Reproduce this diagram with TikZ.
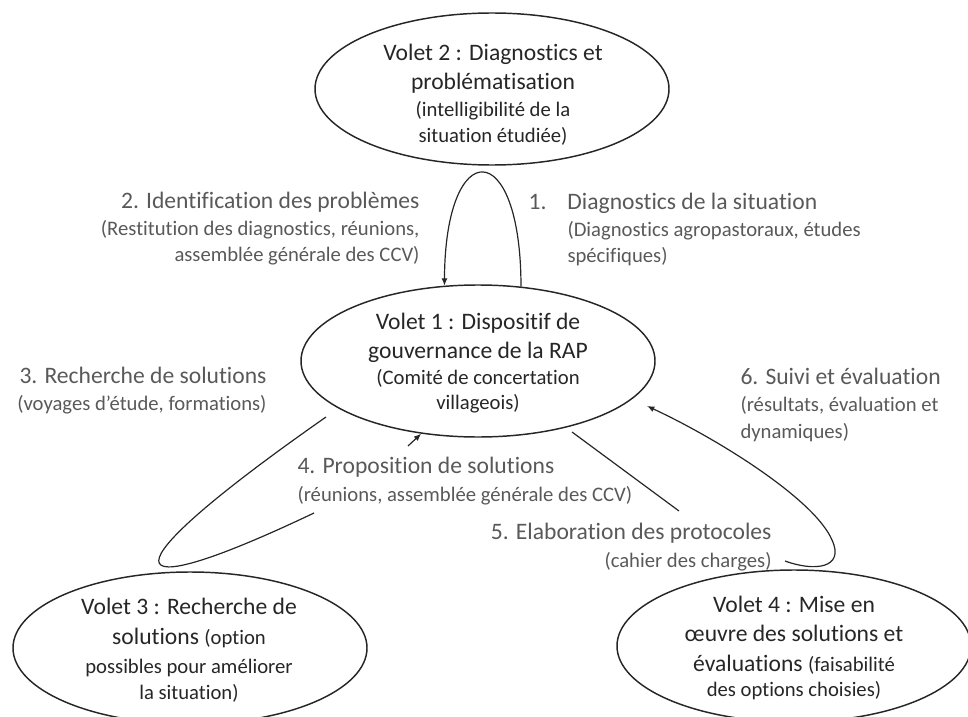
\documentclass[tikz,border=0pt]{standalone}
\usepackage{fontspec}
\setmainfont{Carlito}[Ligatures=NoCommon]
\usetikzlibrary{shapes.geometric,arrows.meta}

\definecolor{voletink}{RGB}{38,38,38}
\definecolor{labelgray}{RGB}{89,89,89}
\newcommand{\voletfont}{\fontsize{17.7pt}{21.75pt}\selectfont}
\newcommand{\notefont}{\fontsize{15.5pt}{19pt}\selectfont}

\tikzset{every picture/.style={line width=0.75pt}}
\tikzset{
  volet/.style={ellipse, draw=black!85, line width=1.1pt, minimum width=265.5pt, minimum height=114pt, inner sep=0pt},
  volettext/.style={align=center, text=voletink, font=\voletfont, inner sep=0pt},
  etape/.style={text=labelgray, font=\voletfont, inner sep=0pt},
  flux/.style={draw=black!85, line width=0.9pt},
  fluxarr/.style={flux, -{Latex[length=5.5pt,width=4.5pt]}}
}

\begin{document}
\begin{tikzpicture}[x=0.75pt,y=0.75pt,yscale=-1,xscale=1]
  \useasboundingbox (0,0) rectangle (968,717);

  %Shape: Ellipse [volet 2]
  \node[volet] (v2) at (492,89) {};
  %Shape: Ellipse [volet 1]
  \node[volet] (v1) at (478,361) {};
  %Shape: Ellipse [volet 3]
  \node[volet] (v3) at (190,648) {};
  %Shape: Ellipse [volet 4]
  \node[volet] (v4) at (794,646) {};

  % Text Node
  \node[volettext] (v2txt) at (493,95) {Volet 2 : Diagnostics et\\ problématisation\\[-1.5pt] {\notefont (intelligibilité de la}\\[-2.25pt] {\notefont situation étudiée)}};
  % Text Node
  \node[volettext] (v1txt) at (478,363) {Volet 1 : Dispositif de\\ gouvernance de la RAP\\[-2.25pt] {\notefont (Comité de concertation}\\[-3pt] {\notefont villageois)}};
  % Text Node
  \node[volettext] (v3txt) at (189,650) {Volet 3 : Recherche de\\[0.75pt] solutions {\notefont (option}\\ {\notefont possibles pour améliorer}\\[-2.25pt] {\notefont la situation)}};
  % Text Node
  \node[volettext] (v4txt) at (794,648) {Volet 4 : Mise en\\ œuvre des solutions et\\[0.75pt] évaluations {\notefont (faisabilité}\\[-3pt] {\notefont des options choisies)}};

  %Curve Lines [diagnostic loop]
  \draw[fluxarr] (v1.60) .. controls (521,135) and (445,135) .. (v1.114);

  %Curve Lines [solutions loop]
  \coordinate (s3a) at (326,417);
  \coordinate (s3b) at (314,513);
  \coordinate (s4) at (408,446);
  \draw[flux] (s3a) .. controls (100,575) and (110,610) .. (s3b);
  \draw[fluxarr] (s4) -- (v1.232);

  %Curve Lines [protocol loop]
  \coordinate (p5a) at (572,432);
  \coordinate (p5b) at (679,511);
  \coordinate (e6a) at (785,561);
  \coordinate (e6b) at (647,406);
  \draw[flux] (p5a) -- (p5b);
  \draw[fluxarr] (e6a) .. controls (815,572) and (845,568) .. (832,540) .. controls (815,500) and (720,440) .. (e6b);

  % Text Node
  \node[etape, anchor=east, align=right] (etape2) at (420,229) {2. Identification des problèmes\\[-1.5pt] {\notefont (Restitution des diagnostics, réunions,}\\[-2.25pt] {\notefont assemblée générale des CCV)}};
  % Text Node
  \node[etape, anchor=west, align=left] (etape1) at (567,229) {\llap{1.\hspace{15.75pt}}Diagnostics de la situation\\[-1.5pt] {\notefont (Diagnostics agropastoraux, études}\\[-2.25pt] {\notefont spécifiques)}};
  % Text Node
  \node[etape, anchor=east, align=right] (etape3) at (267,391) {3. Recherche de solutions\\[-1.5pt] {\notefont (voyages d’étude, formations)}};
  % Text Node
  \node[etape, anchor=west, align=left] (etape4) at (297,481) {4. Proposition de solutions\\[-0.75pt] {\notefont (réunions, assemblée générale des CCV)}};
  % Text Node
  \node[etape, anchor=east, align=right] (etape5) at (772,547) {5. Elaboration des protocoles\\[-0.75pt] {\notefont (cahier des charges)}};
  % Text Node
  \node[etape, anchor=west, align=left] (etape6) at (740,405) {6. Suivi et évaluation\\[-1.5pt] {\notefont (résultats, évaluation et}\\[-1.5pt] {\notefont dynamiques)}};

\end{tikzpicture}
\end{document}
